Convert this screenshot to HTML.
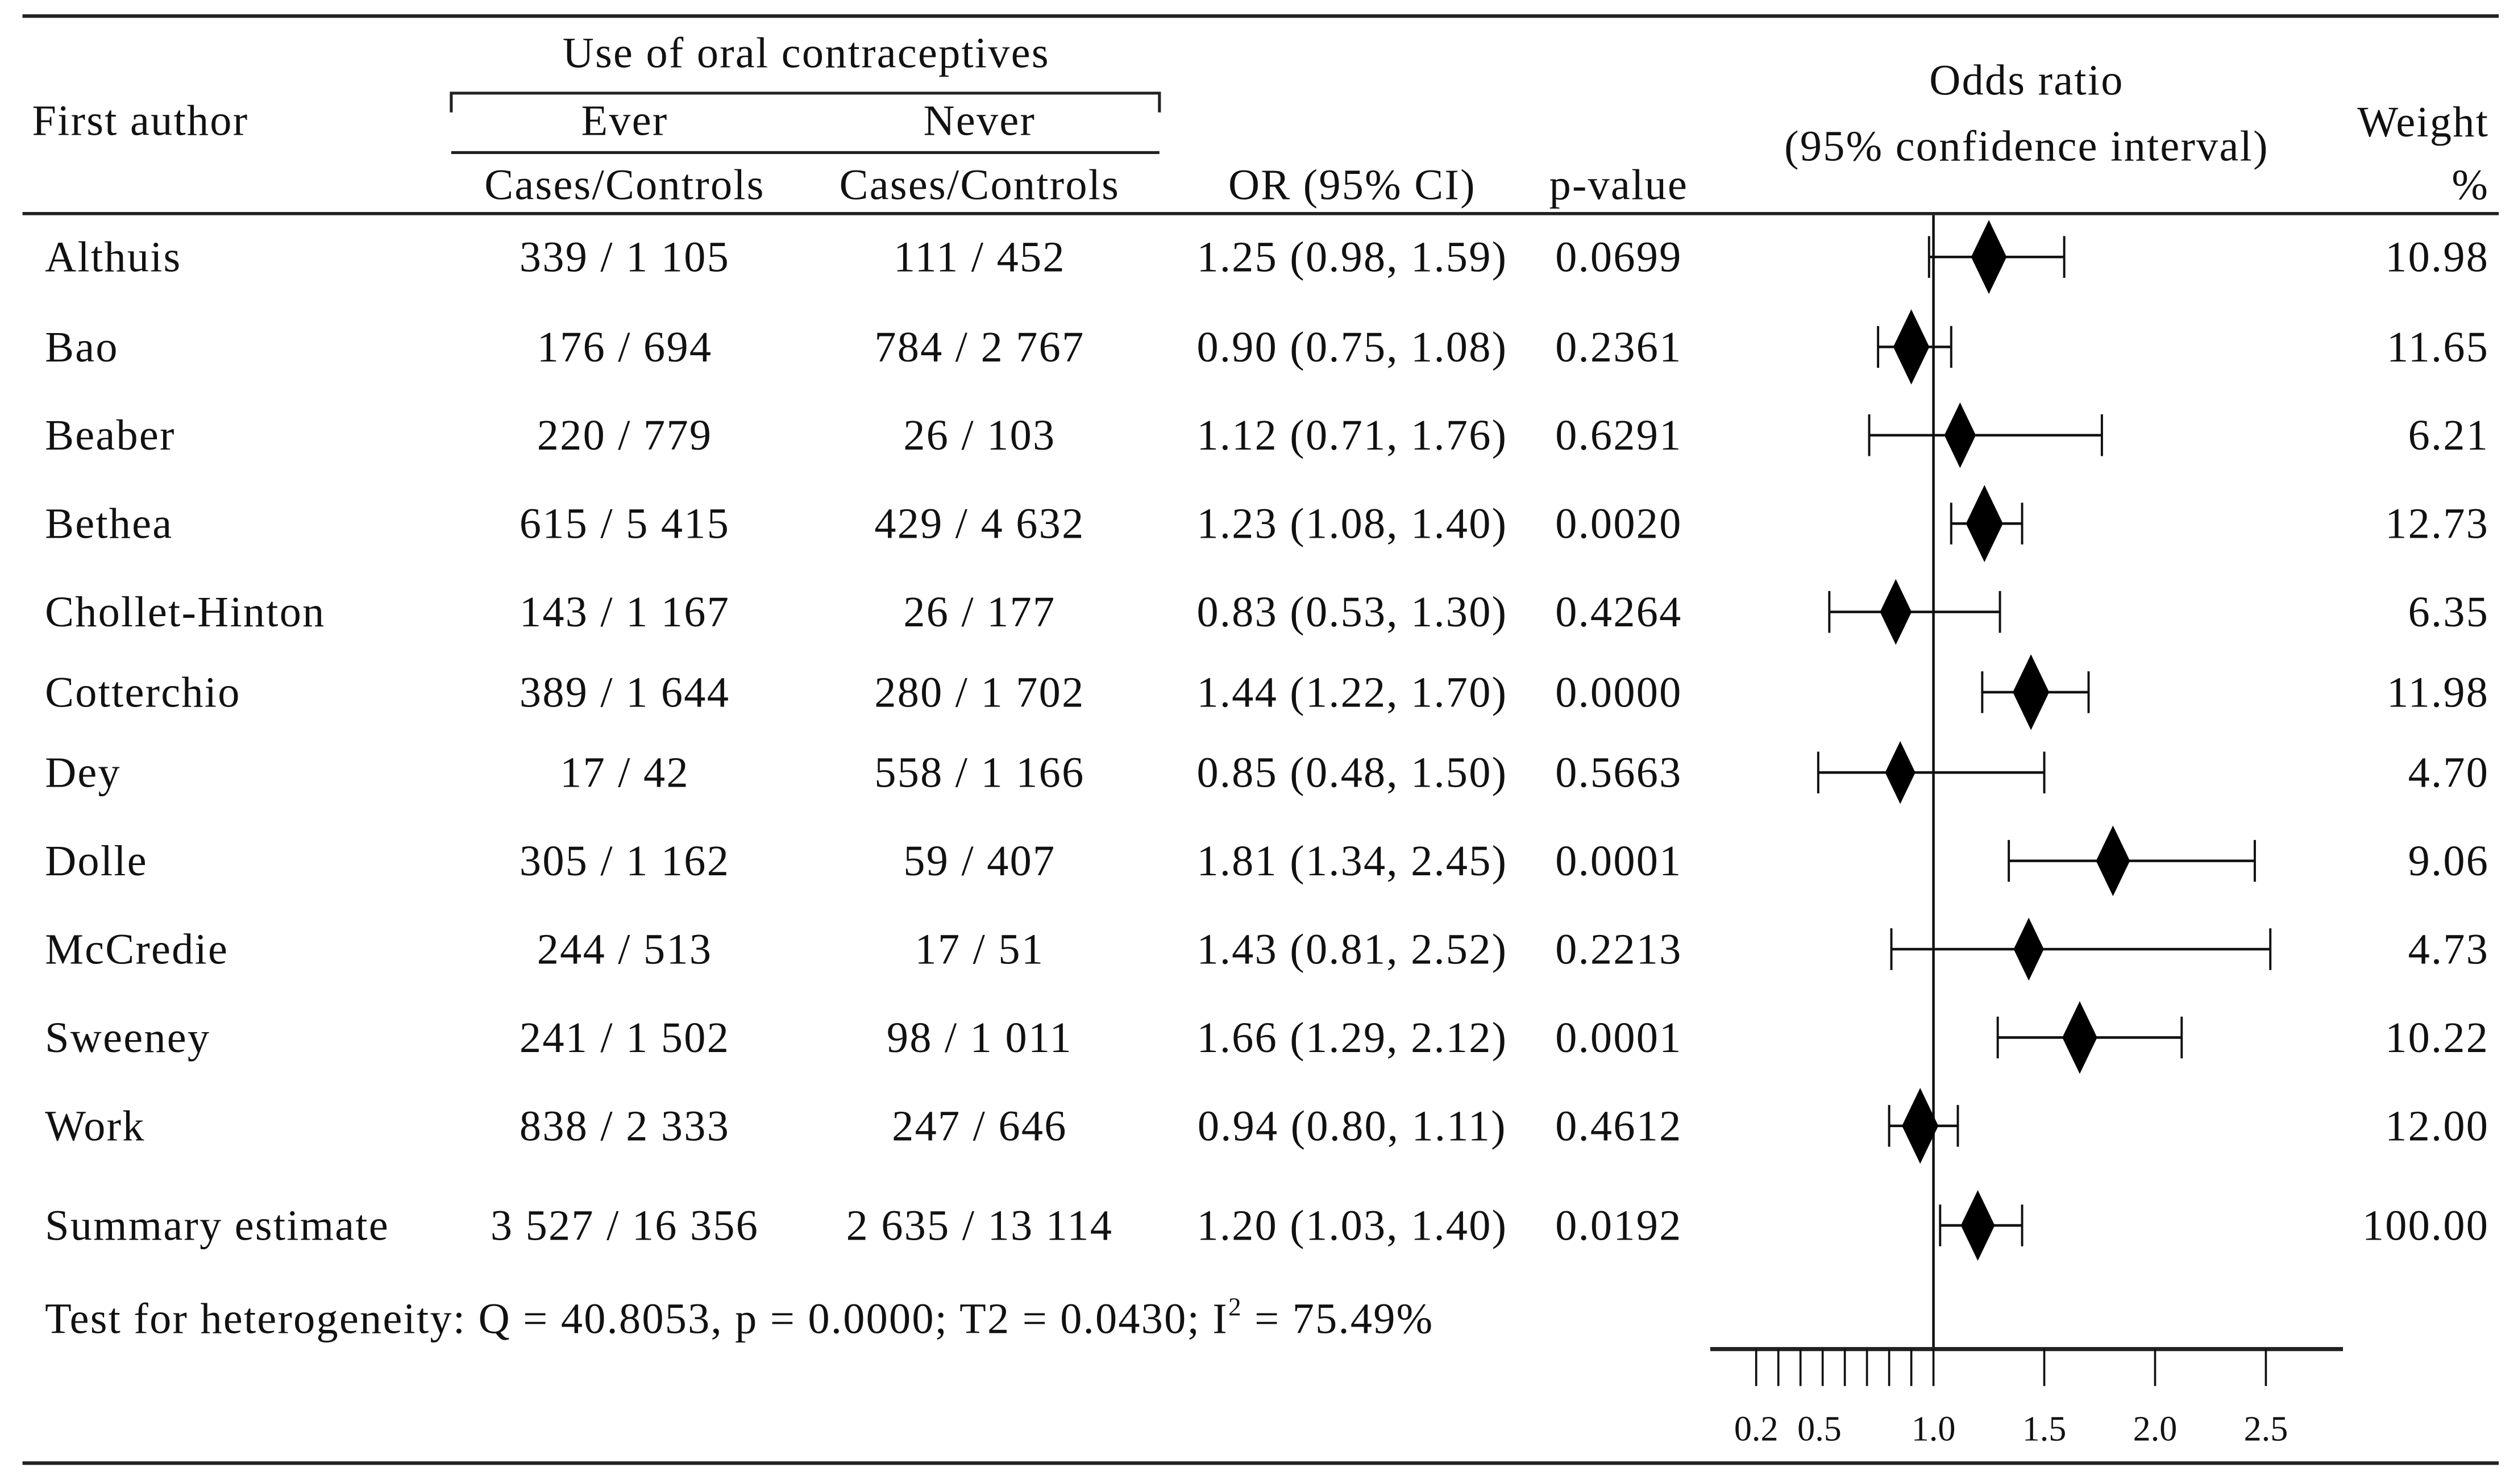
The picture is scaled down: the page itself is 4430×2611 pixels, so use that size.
<!DOCTYPE html>
<html><head><meta charset="utf-8">
<style>
html,body{margin:0;padding:0;background:#fff;}
svg{display:block;}
text{font-family:"Liberation Serif","DejaVu Serif",serif;fill:#111;}
.t{letter-spacing:0.8px;}
</style></head>
<body>
<svg id="chart" width="4430" height="2611" viewBox="0 0 1568 924" preserveAspectRatio="none" xmlns="http://www.w3.org/2000/svg">
<g font-size="27" class="t">
<line x1="14" y1="10" x2="1556" y2="10" stroke="#222" stroke-width="2.2"/>
<text x="20" y="84">First author</text>
<text x="502" y="42" text-anchor="middle">Use of oral contraceptives</text>
<path d="M281,70 V58 H722 V70" fill="none" stroke="#222" stroke-width="1.8"/>
<text x="389" y="84" text-anchor="middle">Ever</text>
<text x="610" y="84" text-anchor="middle">Never</text>
<line x1="281" y1="95" x2="722" y2="95" stroke="#222" stroke-width="1.8"/>
<text x="389" y="124" text-anchor="middle">Cases/Controls</text>
<text x="610" y="124" text-anchor="middle">Cases/Controls</text>
<text x="842" y="124" text-anchor="middle">OR (95% CI)</text>
<text x="1008" y="124" text-anchor="middle">p-value</text>
<text x="1262" y="59" text-anchor="middle">Odds ratio</text>
<text x="1262" y="100" text-anchor="middle">(95% confidence interval)</text>
<text x="1550" y="85" text-anchor="end">Weight</text>
<text x="1550" y="124" text-anchor="end">%</text>
<line x1="14" y1="133" x2="1556" y2="133" stroke="#222" stroke-width="2"/>
</g>
<g id="rows" font-size="27" class="t"></g>
<g id="plot"></g>
<text x="28" y="830" font-size="27" class="t">Test for heterogeneity: Q = 40.8053, p = 0.0000; T2 = 0.0430; I<tspan dy="-11" font-size="16">2</tspan><tspan dy="11"> = 75.49%</tspan></text>
<line x1="14" y1="911" x2="1556" y2="911" stroke="#222" stroke-width="2.2"/>
</svg>
<script>
const studies = ["Althuis","Bao","Beaber","Bethea","Chollet-Hinton","Cotterchio","Dey","Dolle","McCredie","Sweeney","Work","Summary estimate"];
const everCC = ["339 / 1 105","176 / 694","220 / 779","615 / 5 415","143 / 1 167","389 / 1 644","17 / 42","305 / 1 162","244 / 513","241 / 1 502","838 / 2 333","3 527 / 16 356"];
const neverCC = ["111 / 452","784 / 2 767","26 / 103","429 / 4 632","26 / 177","280 / 1 702","558 / 1 166","59 / 407","17 / 51","98 / 1 011","247 / 646","2 635 / 13 114"];
const orVals = [1.25,0.90,1.12,1.23,0.83,1.44,0.85,1.81,1.43,1.66,0.94,1.20];
const loVals = [0.98,0.75,0.71,1.08,0.53,1.22,0.48,1.34,0.81,1.29,0.80,1.03];
const hiVals = [1.59,1.08,1.76,1.40,1.30,1.70,1.50,2.45,2.52,2.12,1.11,1.40];
const pVals = ["0.0699","0.2361","0.6291","0.0020","0.4264","0.0000","0.5663","0.0001","0.2213","0.0001","0.4612","0.0192"];
const weights = [10.98,11.65,6.21,12.73,6.35,11.98,4.70,9.06,4.73,10.22,12.00,100.00];
const minorTicks = [0.2,0.3,0.4,0.5,0.6,0.7,0.8,0.9,1.0,1.5,2.0,2.5];
const tickLabels = ["0.2","0.5","1.0","1.5","2.0","2.5"];

const NS="http://www.w3.org/2000/svg";
const X0=1204, PXU=138;
function xScale(v){return X0+(v-1)*PXU;}
const rowY=[160,216,271,326,381,431,481,536,591,646,701,763];
function yRow(i){return rowY[i];}
function mk(tag,attrs,parent){const e=document.createElementNS(NS,tag);for(const k in attrs)e.setAttribute(k,attrs[k]);parent.appendChild(e);return e;}
const rows=document.getElementById('rows');
const plot=document.getElementById('plot');
const ref=mk('line',{x1:X0,y1:134,x2:X0,y2:840,stroke:'#111','stroke-width':1.6},plot);


studies.forEach((s,i)=>{
  const y=yRow(i), b=y+9;
  const g=mk('g',{},rows);
  
  
  const cols=[[s,28,'start'],[everCC[i],389,'middle'],[neverCC[i],610,'middle'],
    [orVals[i].toFixed(2)+' ('+loVals[i].toFixed(2)+', '+hiVals[i].toFixed(2)+')',842,'middle'],
    [pVals[i],1008,'middle'],[weights[i].toFixed(2),1550,'end']];
  const names=['author','ever','never','or-ci','p-value','weight'];
  cols.forEach((c,j)=>{const t=mk('text',{x:c[1],y:b,'text-anchor':c[2]},g);t.textContent=c[0];
    
    });
  const mg=mk('g',{},plot);
  
  
  const xl=xScale(loVals[i]),xh=xScale(hiVals[i]),xm=xScale(orVals[i]);
  mk('line',{x1:xl,y1:y,x2:xh,y2:y,stroke:'#111','stroke-width':1.6},mg);
  mk('line',{x1:xl,y1:y-13,x2:xl,y2:y+13,stroke:'#111','stroke-width':1.4},mg);
  mk('line',{x1:xh,y1:y-13,x2:xh,y2:y+13,stroke:'#111','stroke-width':1.4},mg);
  const hh = i===11 ? 22 : 17+0.55*weights[i];
  const hw = hh*0.48;
  mk('polygon',{points:`${xm},${y-hh} ${xm+hw},${y} ${xm},${y+hh} ${xm-hw},${y}`,fill:'#000'},mg);
});
const ax=mk('g',{},plot);


mk('line',{x1:1065,y1:840,x2:1459,y2:840,stroke:'#222','stroke-width':2.6},ax);
minorTicks.forEach(v=>{mk('line',{x1:xScale(v),y1:840,x2:xScale(v),y2:863,stroke:'#111','stroke-width':1.3},ax);});
tickLabels.forEach(l=>{
  let v=parseFloat(l); let x=xScale(v); if(l==="0.5") x-=2;
  const t=mk('text',{x:x,y:897,'text-anchor':'middle','font-size':22},ax);t.textContent=l;
  
  
});
</script>
</body></html>
